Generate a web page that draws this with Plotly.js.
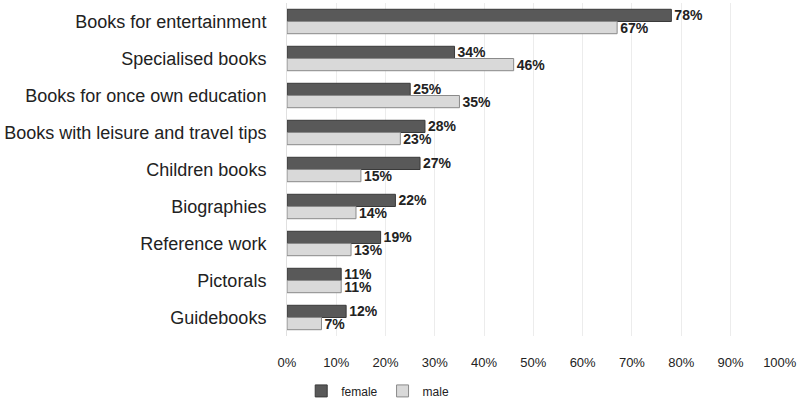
<!DOCTYPE html>
<html><head><meta charset="utf-8">
<script src="https://cdn.plot.ly/plotly-3.0.1.min.js"></script>
<style>body{margin:0;background:#fff}#c{width:798px;height:403px}</style>
</head><body><div id="c"></div>
<script>
const categories = ["Books for entertainment","Specialised books","Books for once own education","Books with leisure and travel tips","Children books","Biographies","Reference work","Pictorals","Guidebooks"];
const female = [78,34,25,28,27,22,19,11,12];
const male = [67,46,35,23,15,14,13,11,7];
const xTicks = [0,10,20,30,40,50,60,70,80,90,100];
const xTickLabels = xTicks.map(v => v + "%");

const labelFont = {family:"Liberation Sans, Arial, sans-serif", size:14, color:"#222"};
const traces = [
  {type:"bar", orientation:"h", name:"female", y:categories, x:female,
   marker:{color:"#595959", line:{color:"#3a3a3a", width:1}},
   text:female.map(v=>"<b>"+v+"%</b>"), textposition:"outside", constraintext:"none", textfont:labelFont, cliponaxis:false},
  {type:"bar", orientation:"h", name:"male", y:categories, x:male,
   marker:{color:"#d9d9d9", line:{color:"#8a8a8a", width:1}},
   text:male.map(v=>"<b>"+v+"%</b>"), textposition:"outside", constraintext:"none", textfont:labelFont, cliponaxis:false}
];
const layout = {
  width:798, height:403,
  margin:{l:287, r:18, t:3, b:67},
  paper_bgcolor:"#fff", plot_bgcolor:"#fff",
  barmode:"group", bargap:0.34, bargroupgap:0,
  font:{family:"Liberation Sans, Arial, sans-serif", color:"#222"},
  xaxis:{range:[0,100.05], tickvals:xTicks, ticktext:xTickLabels, showgrid:true, gridcolor:"#ececec", gridwidth:1,
         zeroline:false, showline:false, tickfont:{size:13, color:"#222"}, ticklabelstandoff:17, ticklabeloverflow:"allow", fixedrange:true},
  yaxis:{autorange:"reversed", tickfont:{size:18, color:"#222"}, ticklabelstandoff:16, showgrid:false, showline:true, linecolor:"#e0e0e0", fixedrange:true},
  showlegend:true,
  legend:{orientation:"h", x:0.184, xanchor:"center", yref:"container", y:0.03, yanchor:"middle", font:{size:12, color:"#222"}, itemwidth:30, tracegroupgap:0},
};
Plotly.newPlot("c", traces, layout, {displayModeBar:false, staticPlot:true});
</script></body></html>
